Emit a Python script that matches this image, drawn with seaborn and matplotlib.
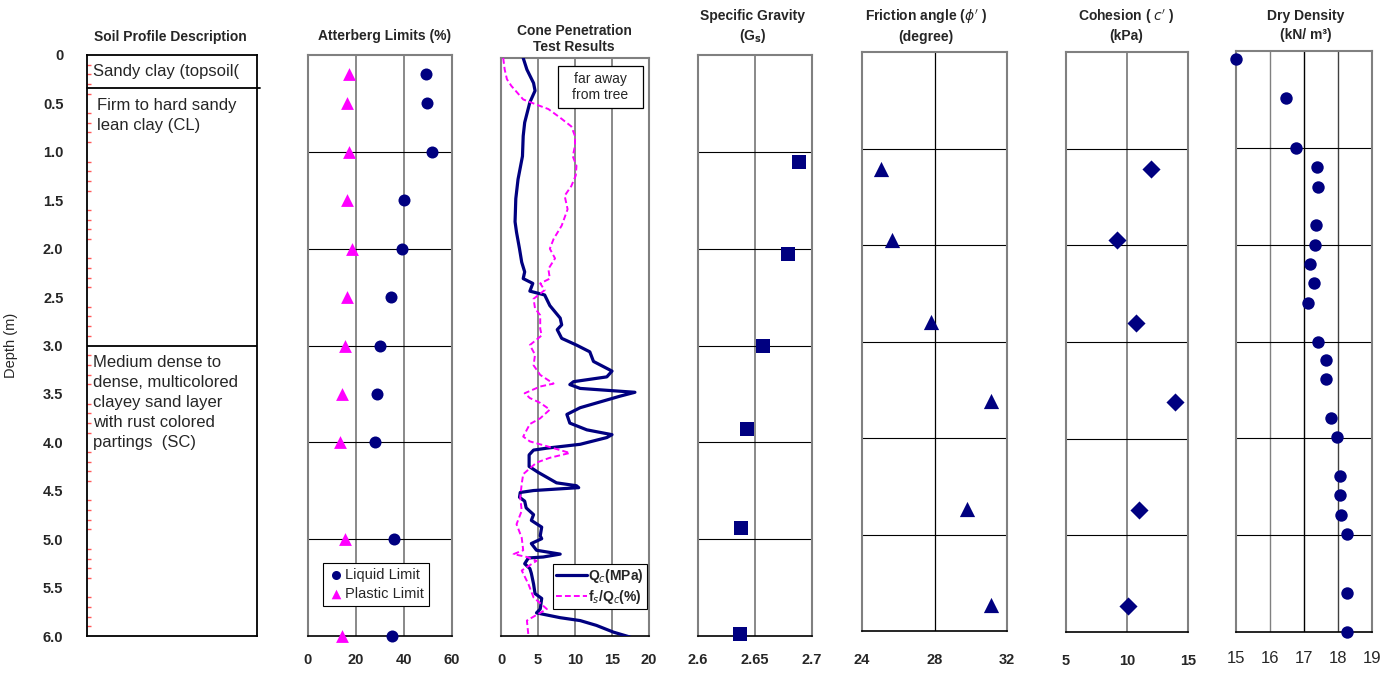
import numpy as np
import matplotlib.pyplot as plt
from matplotlib.patches import Rectangle
import seaborn as sns

# soil profile column
layer_bounds = [0.34, 3.0]
layer_text = ['Sandy clay (topsoil(',
              'Firm to hard sandy\nlean clay (CL)',
              'Medium dense to\ndense, multicolored\nclayey sand layer\nwith rust colored\npartings  (SC)']
layer_text_depth = [0.175, 0.44, 3.1]
depth_ticks = [0, 0.5, 1.0, 1.5, 2.0, 2.5, 3.0, 3.5, 4.0, 4.5, 5.0, 5.5, 6.0]
depth_labels = ['0', '0.5', '1.0', '1.5', '2.0', '2.5', '3.0', '3.5', '4.0', '4.5', '5.0', '5.5', '6.0']

# Atterberg limits (%)
att_depth = [0.2, 0.5, 1.0, 1.5, 2.0, 2.5, 3.0, 3.5, 4.0, 5.0, 6.0]
liquid_limit = [49.0, 49.4, 51.8, 39.9, 39.2, 34.7, 30.1, 28.9, 27.9, 36.0, 34.9]
plastic_limit = [17.2, 16.1, 17.2, 16.1, 18.3, 16.1, 15.4, 14.0, 13.3, 15.4, 14.0]

# cone penetration test, traced
qc_depth = [0.0, 0.12, 0.26, 0.34, 0.46, 0.67, 0.81, 1.02, 1.26, 1.46, 1.70, 1.81, 1.98, 2.12,
            2.22, 2.29, 2.34, 2.42, 2.46, 2.57, 2.70, 2.77, 2.82, 2.91, 2.98, 3.05, 3.15, 3.25,
            3.31, 3.36, 3.39, 3.43, 3.47, 3.51, 3.63, 3.70, 3.79, 3.86, 3.91, 3.94, 4.01, 4.05,
            4.07, 4.12, 4.24, 4.30, 4.41, 4.44, 4.46, 4.49, 4.51, 4.56, 4.60, 4.67, 4.74, 4.80,
            4.87, 4.96, 4.99, 5.04, 5.11, 5.15, 5.18, 5.19, 5.25, 5.30, 5.35, 5.46, 5.56, 5.61,
            5.72, 5.76, 5.81, 5.84, 5.89, 5.96, 6.01]
qc = [3.0, 3.5, 4.4, 4.6, 3.9, 3.2, 3.0, 2.9, 2.3, 2.0, 1.9, 2.1, 2.5, 2.8,
      3.2, 3.0, 4.3, 3.9, 5.9, 6.6, 8.0, 8.2, 7.6, 8.2, 10.2, 12.0, 12.5, 15.0,
      14.3, 9.8, 9.3, 10.7, 18.1, 16.1, 10.7, 8.9, 9.3, 11.6, 15.0, 14.3, 10.7, 6.2,
      4.4, 3.8, 3.8, 5.0, 7.5, 10.2, 10.5, 4.4, 2.6, 2.5, 3.2, 3.4, 4.4, 4.1,
      5.5, 5.3, 5.5, 4.1, 4.8, 8.0, 5.7, 3.7, 3.2, 3.9, 4.1, 4.4, 4.6, 5.5,
      5.3, 4.8, 8.0, 10.7, 12.9, 15.2, 17.4]
fs_depth = [0.0, 0.12, 0.22, 0.29, 0.43, 0.49, 0.53, 0.62, 0.71, 0.81, 0.91, 1.02, 1.12, 1.22,
            1.33, 1.43, 1.57, 1.74, 1.88, 1.98, 2.08, 2.19, 2.29, 2.34, 2.41, 2.50, 2.60, 2.67,
            2.81, 2.88, 2.98, 3.08, 3.19, 3.29, 3.38, 3.41, 3.48, 3.53, 3.58, 3.65, 3.74, 3.80,
            3.93, 3.98, 4.03, 4.10, 4.15, 4.20, 4.32, 4.42, 4.56, 4.70, 4.84, 4.98, 5.11, 5.15,
            5.18, 5.22, 5.32, 5.46, 5.60, 5.72, 5.79, 5.84, 5.99]
fs_qc = [0.3, 0.5, 0.8, 1.4, 3.0, 5.0, 6.4, 8.0, 9.5, 10.0, 10.0, 9.7, 10.2, 10.1,
         9.5, 8.6, 9.0, 8.2, 7.1, 6.6, 7.3, 6.4, 6.6, 5.3, 5.9, 4.4, 4.6, 5.3,
         5.3, 5.5, 3.9, 4.6, 4.4, 5.3, 7.1, 5.3, 3.2, 3.9, 5.3, 6.6, 5.3, 3.9,
         3.0, 3.9, 6.2, 9.3, 6.6, 4.8, 3.0, 2.8, 2.6, 2.8, 2.1, 2.8, 3.0, 1.7,
         3.5, 4.8, 2.8, 3.7, 4.4, 6.2, 4.6, 3.5, 3.7]

# specific gravity
sg_depth = [1.1, 2.06, 3.0, 3.86, 4.88, 5.98]
sg = [2.689, 2.679, 2.657, 2.643, 2.638, 2.637]

# shear strength
shear_depth = [1.21, 1.95, 2.8, 3.62, 4.74, 5.73]
friction = [25.05, 25.65, 27.8, 31.1, 29.8, 31.1]
cohesion = [12.0, 9.2, 10.7, 13.9, 11.0, 10.1]

# dry density
dd_depth = [0.08, 0.49, 1.0, 1.2, 1.4, 1.8, 2.0, 2.2, 2.4, 2.6, 3.0, 3.19, 3.39, 3.79, 3.99,
            4.39, 4.59, 4.79, 4.99, 5.6, 6.0]
dry_density = [15.0, 16.47, 16.76, 17.37, 17.42, 17.34, 17.32, 17.17, 17.29, 17.12, 17.42,
               17.66, 17.66, 17.78, 17.97, 18.05, 18.05, 18.10, 18.25, 18.27, 18.25]

NAVY = '#000080'
MAGENTA = '#FF00FF'
GRAY = '#808080'

sns.set_style('white')
plt.rcParams['font.family'] = ['Liberation Sans', 'DejaVu Sans']

W, H = 1400, 673
fig = plt.figure(figsize=(W / 100, H / 100), dpi=100)


def add_panel(x0, x1, y0, y1):
    return fig.add_axes([x0 / W, 1 - y1 / H, (x1 - x0) / W, (y1 - y0) / H])


def style_panel(ax, xlim, xticks, xlabels, vlines, vcolors, vwidth=1.3, hgrid=True, bold=True, pad=7):
    ax.set_xlim(*xlim)
    ax.set_ylim(6, 0)
    ax.set_xticks(xticks)
    ax.set_xticklabels(xlabels, fontsize=10.5 if bold else 12,
                       fontweight='bold' if bold else 'normal')
    ax.set_yticks([])
    ax.tick_params(axis='x', direction='out', length=5, width=1.2, color='black', pad=pad)
    for side in ['left', 'right', 'top']:
        ax.spines[side].set_color(GRAY)
        ax.spines[side].set_linewidth(1.5)
    ax.spines['bottom'].set_color('black')
    ax.spines['bottom'].set_linewidth(1.2)
    for v, c in zip(vlines, vcolors):
        ax.axvline(v, color=c, lw=vwidth, zorder=1)
    if hgrid:
        for d in [1, 2, 3, 4, 5]:
            ax.axhline(d, color='black', lw=0.8, zorder=1)
    ax.set_xlabel('')
    ax.set_ylabel('')


# soil profile description
ax0 = add_panel(87, 257, 55, 636)
ax0.set_xlim(0, 1)
ax0.set_ylim(6, 0)
ax0.set_xticks([])
ax0.set_yticks(depth_ticks)
ax0.set_yticklabels(depth_labels, fontsize=10.5, fontweight='bold')
ax0.set_yticks(np.arange(0, 6.01, 0.1), minor=True)
ax0.tick_params(axis='y', which='major', direction='out', length=6, width=1.5, color=GRAY, pad=11)
ax0.tick_params(axis='y', which='minor', left=True, direction='in', length=3, width=1, color='#ff5a5a')
for s in ax0.spines.values():
    s.set_color('black')
    s.set_linewidth(1.3)
ax0.axhline(layer_bounds[0], xmin=0, xmax=1.015, color='black', lw=1.3, clip_on=False)
ax0.axhline(layer_bounds[1], color='black', lw=1.3)
ax0.text(0.035, layer_text_depth[0], layer_text[0], va='center', ha='left', fontsize=12)
ax0.text(0.06, layer_text_depth[1], layer_text[1], va='top', ha='left', fontsize=12, linespacing=1.45)
ax0.text(0.035, layer_text_depth[2], layer_text[2], va='top', ha='left', fontsize=12, linespacing=1.42)
ax0.set_ylabel('Depth (m)', fontsize=10.5)
ax0.yaxis.set_label_coords(-0.405, 0.5)

# Atterberg limits
ax1 = add_panel(308, 452, 55, 636)
sns.scatterplot(x=liquid_limit, y=att_depth, ax=ax1, marker='o', s=75, color=NAVY,
                linewidth=0, label='Liquid Limit', clip_on=False, zorder=3)
sns.scatterplot(x=plastic_limit, y=att_depth, ax=ax1, marker='^', s=85, color=MAGENTA,
                linewidth=0, label='Plastic Limit', clip_on=False, zorder=3)
style_panel(ax1, (0, 60), [0, 20, 40, 60], ['0', '20', '40', '60'], [20, 40], [GRAY, GRAY])
leg = ax1.legend(loc='lower left', bbox_to_anchor=(0.105, 0.052), fontsize=10.5, frameon=True,
                 fancybox=False, edgecolor='black', framealpha=1, handletextpad=0.15,
                 borderpad=0.35, labelspacing=0.3, handlelength=1.0, borderaxespad=0,
                 markerscale=0.75)
leg.get_frame().set_linewidth(0.8)

# cone penetration
ax2 = add_panel(501, 649, 58, 636)
sns.lineplot(x=qc, y=qc_depth, ax=ax2, sort=False, estimator=None, color=NAVY, lw=2.3,
             label=r'Q$_c$(MPa)', zorder=3)
sns.lineplot(x=fs_qc, y=fs_depth, ax=ax2, sort=False, estimator=None, color=MAGENTA, lw=1.4,
             linestyle=(0, (3, 1.6)), label=r'f$_s$/Q$_c$(%)', zorder=3)
style_panel(ax2, (0, 20), [0, 5, 10, 15, 20], ['0', '5', '10', '15', '20'],
            [5, 10, 15], [GRAY, GRAY, GRAY], hgrid=False)
leg = ax2.legend(loc='lower left', bbox_to_anchor=(0.35, 0.046), prop={'weight': 'bold', 'size': 10},
                 frameon=True, fancybox=False, edgecolor='black', framealpha=1, handlelength=2.2,
                 handletextpad=0.1, borderpad=0.25, labelspacing=0.2, borderaxespad=0)
leg.get_frame().set_linewidth(0.8)
ax2.add_patch(Rectangle((0.385, 0.9135), 0.574, 0.0727, transform=ax2.transAxes,
                        facecolor='white', edgecolor='black', lw=0.9, zorder=4))
ax2.text(0.672, 0.95, 'far away\nfrom tree', transform=ax2.transAxes, ha='center', va='center',
         fontsize=10, linespacing=1.15, zorder=5)

# specific gravity
ax3 = add_panel(698, 812, 55, 636)
sns.scatterplot(x=sg, y=sg_depth, ax=ax3, marker='s', s=110, color=NAVY, linewidth=0,
                clip_on=False, zorder=3)
style_panel(ax3, (2.6, 2.7), [2.6, 2.65, 2.7], ['2.6', '2.65', '2.7'], [2.65], [GRAY])

# friction angle
ax4 = add_panel(862, 1007, 52, 631)
sns.scatterplot(x=friction, y=shear_depth, ax=ax4, marker='^', s=120, color=NAVY, linewidth=0,
                clip_on=False, zorder=3)
style_panel(ax4, (24, 32), [24, 28, 32], ['24', '28', '32'], [28], ['black'], vwidth=0.9, pad=11)

# cohesion
ax5 = add_panel(1066, 1188, 52, 632)
sns.scatterplot(x=cohesion, y=shear_depth, ax=ax5, marker='D', s=85, color=NAVY, linewidth=0,
                clip_on=False, zorder=3)
style_panel(ax5, (5, 15), [5, 10, 15], ['5', '10', '15'], [10], [GRAY], pad=11)

# dry density
ax6 = add_panel(1236, 1372, 51, 632)
sns.scatterplot(x=dry_density, y=dd_depth, ax=ax6, marker='o', s=80, color=NAVY, linewidth=0,
                clip_on=False, zorder=3)
style_panel(ax6, (15, 19), [15, 16, 17, 18, 19], ['15', '16', '17', '18', '19'],
            [16, 17, 18], [GRAY, 'black', '#404040'], vwidth=1.0, bold=False, pad=9)

# panel headings
headings = [
    (170, [37], ['Soil Profile Description']),
    (385, [36], ['Atterberg Limits (%)']),
    (574, [31, 47], ['Cone Penetration', 'Test Results']),
    (753, [16, 36], ['Specific Gravity', r'(G$_\mathbf{s}$)']),
    (926, [17, 37], [r"Friction angle ($\phi'$ )", '(degree)']),
    (1126, [17, 36], [r"Cohesion ( $c'$ )", '(kPa)']),
    (1306, [16, 35], ['Dry Density', '(kN/ m³)']),
]
for xc, ys, lines in headings:
    for yc, line in zip(ys, lines):
        fig.text(xc / W, 1 - yc / H, line, ha='center', va='center', fontsize=10, fontweight='bold')

fig.savefig('out.png', dpi=100)
